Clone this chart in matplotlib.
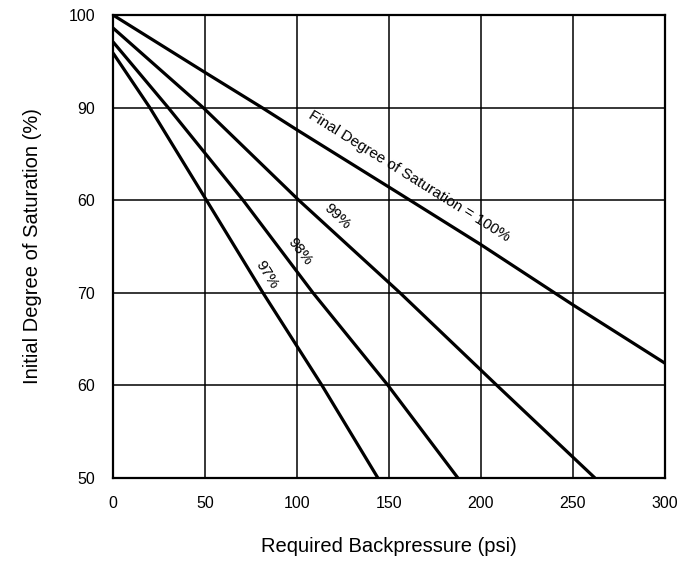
import numpy as np
import matplotlib.pyplot as plt

plt.rcParams['font.family'] = ['Liberation Sans', 'DejaVu Sans']

# values (backpressure psi, initial saturation %)
p_100 = [0, 50, 81, 100, 155, 200, 250, 300]
s_100 = [100, 93.8, 90, 87.6, 80.8, 75.2, 68.7, 62.4]

p_99 = [0, 49, 101, 156, 208.7, 262]
s_99 = [98.6, 90, 80, 70, 60, 50]

p_98 = [0, 30, 70.7, 108.7, 149.5, 187.5]
s_98 = [97.1, 90, 80, 70, 60, 50]

p_97 = [0, 20, 50.8, 81.5, 113.6, 144]
s_97 = [95.9, 90, 80, 70, 60, 50]

xticks = [0, 50, 100, 150, 200, 250, 300]
yticks = [100, 90, 80, 70, 60, 50]
ytick_labels = ['100', '90', '60', '70', '60', '50']

fig = plt.figure(figsize=(6.95, 5.69), dpi=100)
ax = fig.add_axes([0.1626, 0.16, 0.794, 0.8136])

for p, s in [(p_100, s_100), (p_99, s_99), (p_98, s_98), (p_97, s_97)]:
    ax.plot(p, s, color='black', lw=2.3, solid_capstyle='butt')

ax.set_xlim(0, 300)
ax.set_ylim(50, 100)
ax.set_xticks(xticks)
ax.set_yticks(yticks)
ax.set_yticklabels(ytick_labels)
ax.grid(True, color='black', lw=1.1)
ax.tick_params(length=0, labelsize=11.5, pad=13)
for sp in ax.spines.values():
    sp.set_linewidth(1.6)

ax.set_xlabel('Required Backpressure (psi)', fontsize=14.5, labelpad=19)
ax.set_ylabel('Initial Degree of Saturation (%)', fontsize=14.5, labelpad=19)

ax.text(161, 82.6, 'Final Degree of Saturation = 100%', rotation=-32,
        ha='center', va='center', fontsize=11, rotation_mode='anchor')
ax.text(122, 78.2, '99%', rotation=-43, ha='center', va='center', fontsize=11,
        rotation_mode='anchor')
ax.text(101.6, 74.4, '98%', rotation=-52, ha='center', va='center', fontsize=11,
        rotation_mode='anchor')
ax.text(83.7, 71.9, '97%', rotation=-58, ha='center', va='center', fontsize=11,
        rotation_mode='anchor')

plt.savefig('out.png', dpi=100)
